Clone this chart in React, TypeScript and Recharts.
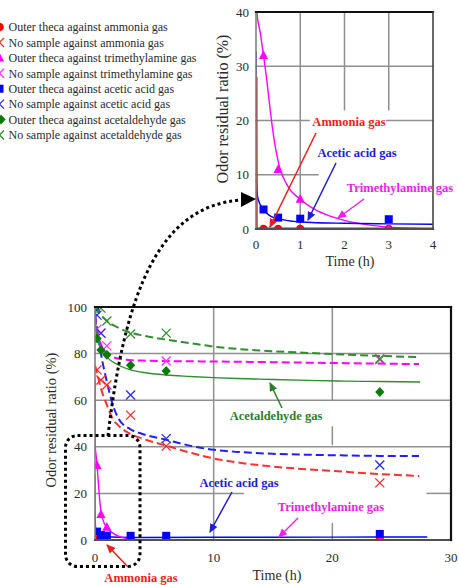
import React from "react";
import { ComposedChart, Line, Scatter, XAxis, YAxis } from "recharts";

const SERIF = '"Liberation Serif", "Times New Roman", serif';
const RED = "#ff0000";
const MAGENTA = "#ff00ff";
const BLUE = "#0000ff";
const GREEN = "#2f8f2f";
const GRID = "#909090";
const TEXT = "#2a2a2a";

// measured residual ratio (%), time in hours
const sampleTimes = [0, 0.17, 0.5, 1, 3, 6, 24];
const thecaAmmonia = [100, 0, 0, 0, 0, 0, 0];
const blankAmmonia = [100, 73, 68.7, 66.5, 53.6, 40.3, 24.5];
const thecaTMA = [100, 32, 11, 5.5, 0, 0, 0];
const blankTMA = [100, 90.5, 88.8, 83.3, null, 76.8, 77.3];
const thecaAcetic = [100, 3.6, 2.1, 1.9, 1.8, 1.8, 2.6];
const blankAcetic = [100, 96.5, 88.8, null, 62.2, 43.5, 32.2];
const thecaAcetaldehyde = [100, 86.5, 81.5, 79.5, 75, 72.5, 63.5];
const blankAcetaldehyde = [100, null, 99.5, 94, 88.4, 88.8, 77.8];

// fitted curves, no sample (dashed)
const blankFitTimes = [0, 0.25, 0.5, 1, 1.5, 2, 3, 4, 6, 8, 10, 12, 15, 18, 21, 24, 27.3];
const blankFitAmmonia = [75, 70, 65, 58, 52, 49, 45.5, 43.5, 40.5, 37.5, 35, 33.3, 31.5, 30.3, 29.3, 28.3, 27.5];
const blankFitTMA = [96, 88, 84, 80, 78.5, 77.8, 77.2, 77, 76.8, 76.7, 76.6, 76.5, 76.3, 76.1, 75.9, 75.7, 75.5];
const blankFitAcetic = [97, 88, 80, 68, 58, 52, 47.5, 45.5, 43, 40.5, 38.7, 37.8, 37, 36.6, 36.3, 36.1, 36];
const blankFitAcetaldehyde = [100, 98, 96.5, 94, 92.3, 91, 89, 87.8, 86, 84.5, 83, 82, 81, 80.3, 79.6, 79, 78.5];

// fitted curves, outer theca (solid)
const thecaFitAldTimes = [0, 0.1, 0.25, 0.5, 1, 2, 3, 4, 6, 8, 10, 12, 15, 18, 21, 24, 27.4];
const thecaFitAcetaldehyde = [100, 90, 86, 82, 78.5, 75, 73, 72, 70.8, 70.2, 69.7, 69.3, 68.9, 68.5, 68.2, 68, 67.8];
const thecaFitTMATimes = [0, 0.02, 0.1, 0.17, 0.25, 0.32, 0.4, 0.5, 0.75, 1, 1.25, 1.6, 2, 2.5, 3, 3.5, 4, 6, 27.6];
const thecaFitTMA = [69, 40, 36, 32, 27, 22, 17, 12.5, 7.5, 5.5, 4, 2.6, 1.6, 0.8, 0.35, 0.15, 0.05, 0, 0];
const thecaFitAmmoniaTimes = [0, 0.005, 27.6];
const thecaFitAmmonia = [28, 0, 0];
const thecaFitAceticTimes = [0, 0.06, 0.17, 0.5, 1, 2, 4, 10, 20, 28];
const thecaFitAcetic = [11.5, 4.5, 3.4, 1.9, 1.4, 1.15, 1.05, 1.15, 1.25, 1.3];
// same curve drawn on the 0-4 h scale
const zoomFitAceticTimes = [0, 0.01, 0.03, 0.06, 0.17, 0.3, 0.5, 0.85, 1.25, 2, 3, 4];
const zoomFitAcetic = [32.7, 10, 6.3, 5.2, 3.6, 2.5, 1.9, 1.4, 1.2, 1.05, 0.95, 0.87];

type Kind = "circle" | "cross" | "triangle" | "square" | "diamond";
type Pt = { t: number; v: number };

const toPoints = (ts: number[], vs: (number | null)[]): Pt[] =>
	ts.flatMap((t, i) => (vs[i] == null ? [] : [{ t, v: vs[i] as number }]));

const markerSeries: { name: string; values: (number | null)[]; kind: Kind; color: string }[] = [
	{ name: "Outer theca against ammonia gas", values: thecaAmmonia, kind: "circle", color: RED },
	{ name: "No sample against ammonia gas", values: blankAmmonia, kind: "cross", color: "#ff2a2a" },
	{ name: "Outer theca against trimethylamine gas", values: thecaTMA, kind: "triangle", color: MAGENTA },
	{ name: "No sample against trimethylamine gas", values: blankTMA, kind: "cross", color: "#ff33ff" },
	{ name: "Outer theca against acetic acid gas", values: thecaAcetic, kind: "square", color: BLUE },
	{ name: "No sample against acetic acid gas", values: blankAcetic, kind: "cross", color: "#2a2aff" },
	{ name: "Outer theca against acetaldehyde gas", values: thecaAcetaldehyde, kind: "diamond", color: "#0a7a0a" },
	{ name: "No sample against acetaldehyde gas", values: blankAcetaldehyde, kind: "cross", color: GREEN },
];

const mainFits = [
	{ times: blankFitTimes, values: blankFitAmmonia, color: "#ff3030", dashed: true },
	{ times: blankFitTimes, values: blankFitAcetic, color: "#2020ff", dashed: true },
	{ times: blankFitTimes, values: blankFitTMA, color: MAGENTA, dashed: true },
	{ times: blankFitTimes, values: blankFitAcetaldehyde, color: GREEN, dashed: true },
	{ times: thecaFitAldTimes, values: thecaFitAcetaldehyde, color: GREEN, dashed: false },
	{ times: thecaFitAceticTimes, values: thecaFitAcetic, color: BLUE, dashed: false },
	{ times: thecaFitAmmoniaTimes, values: thecaFitAmmonia, color: RED, dashed: false },
	{ times: thecaFitTMATimes, values: thecaFitTMA, color: MAGENTA, dashed: false },
];

const zoomFits = [
	{ times: thecaFitTMATimes, values: thecaFitTMA, color: MAGENTA, width: 1.4 },
	{ times: zoomFitAceticTimes, values: zoomFitAcetic, color: BLUE, width: 1.4 },
	{ times: thecaFitAmmoniaTimes, values: thecaFitAmmonia, color: RED, width: 3 },
];

const Mark = ({ cx, cy, kind, color }: { cx: number; cy: number; kind: Kind; color: string }) => {
	switch (kind) {
		case "circle":
			return <circle cx={cx} cy={cy} r={4.3} fill={color} />;
		case "square":
			return <rect x={cx - 4} y={cy - 4} width={8} height={8} fill={color} />;
		case "triangle":
			return <polygon points={`${cx},${cy - 5.2} ${cx + 4.6},${cy + 3.6} ${cx - 4.6},${cy + 3.6}`} fill={color} />;
		case "diamond":
			return <polygon points={`${cx},${cy - 5} ${cx + 4.6},${cy} ${cx},${cy + 5} ${cx - 4.6},${cy}`} fill={color} />;
		default:
			return (
				<path
					d={`M${cx - 4.5},${cy - 4.5}L${cx + 4.5},${cy + 4.5}M${cx + 4.5},${cy - 4.5}L${cx - 4.5},${cy + 4.5}`}
					stroke={color}
					strokeWidth={1.3}
					fill="none"
				/>
			);
	}
};

const tickStyle = { fontSize: 13, fill: TEXT, fontFamily: SERIF };

// plot rectangles on the page; chart margins are derived from them
type Plot = { left: number; top: number; right: number; bottom: number; xMax: number; yMax: number };
const MAIN_PLOT: Plot = { left: 95, top: 307, right: 451, bottom: 540, xMax: 30, yMax: 100 };
const ZOOM_PLOT: Plot = { left: 256, top: 12, right: 433, bottom: 229, xMax: 4, yMax: 40 };
const MAIN_BOX = { x: 0, y: 280, w: 459, h: 305, yAxisW: 50, xAxisH: 30 };
const ZOOM_BOX = { x: 200, y: 0, w: 250, h: 270, yAxisW: 40, xAxisH: 30 };

const marginOf = (p: Plot, b: typeof MAIN_BOX) => ({
	top: p.top - b.y,
	left: p.left - b.x - b.yAxisW,
	right: b.x + b.w - p.right,
	bottom: b.y + b.h - p.bottom - b.xAxisH,
});

const px = (p: Plot, x: number) => p.left + (x / p.xMax) * (p.right - p.left);
const py = (p: Plot, y: number) => p.bottom - (y / p.yMax) * (p.bottom - p.top);

type Rule = { x?: number; y?: number; from: number; to: number; color?: string; width?: number };

// grid pieces; gaps are left where the gas labels sit
const mainGrid: Rule[] = [
	{ x: 10, from: 0, to: 100 },
	{ x: 20, from: 0, to: 7 },
	{ x: 20, from: 41, to: 48.5 },
	{ x: 20, from: 60, to: 100 },
	{ y: 20, from: 0, to: 12.5 },
	{ y: 20, from: 28, to: 30 },
	{ y: 40, from: 0, to: 30 },
	{ y: 60, from: 0, to: 30 },
	{ y: 80, from: 0, to: 30 },
];
const mainFrame: Rule[] = [
	{ x: 0, from: 0, to: 100, color: "#808080", width: 1.6 },
	{ y: 0, from: 0, to: 30, color: "#505050", width: 2.2 },
	{ y: 100, from: 0, to: 30, color: "#111", width: 2.2 },
	{ x: 30, from: 0, to: 100, color: "#111", width: 2.2 },
];

const zoomGrid: Rule[] = [
	{ x: 1, from: 0, to: 40 },
	{ x: 2, from: 22, to: 40 },
	{ x: 3, from: 22, to: 40 },
	{ y: 10, from: 0, to: 1.4 },
	{ y: 20, from: 0, to: 1.2 },
	{ y: 20, from: 2.95, to: 4 },
	{ y: 30, from: 0, to: 4 },
];
const zoomFrame: Rule[] = [
	{ x: 0, from: 0, to: 40, color: "#808080", width: 1.6 },
	{ y: 0, from: 0, to: 4, color: "#505050", width: 2.2 },
	{ y: 40, from: 0, to: 4, color: "#111", width: 2.2 },
	{ x: 4, from: 0, to: 40, color: "#444", width: 1.6 },
];

// straight rules as paths built from the plot rectangle
const rulePaths = (p: Plot, rules: Rule[], prefix: string) =>
	rules.map((r, i) => {
		const d =
			r.x !== undefined
				? `M${px(p, r.x)},${py(p, r.from)}L${px(p, r.x)},${py(p, r.to)}`
				: `M${px(p, r.from)},${py(p, r.y as number)}L${px(p, r.to)},${py(p, r.y as number)}`;
		return (
			<path
				key={`${prefix}${i}`}
				d={d}
				fill="none"
				stroke={r.color ?? GRID}
				strokeWidth={r.width ?? 1.5}
				strokeLinecap="square"
			/>
		);
	});

const Backdrop = () => (
	<svg width={459} height={585} viewBox="0 0 459 585" style={{ position: "absolute", left: 0, top: 0, display: "block" }}>
		<g>{rulePaths(MAIN_PLOT, mainGrid, "m")}</g>
		<g>{rulePaths(ZOOM_PLOT, zoomGrid, "z")}</g>
	</svg>
);

const MainChart = () => (
	<ComposedChart width={MAIN_BOX.w} height={MAIN_BOX.h} margin={marginOf(MAIN_PLOT, MAIN_BOX)}>
		<XAxis
			type="number"
			dataKey="t"
			domain={[0, 30]}
			ticks={[0, 10, 20, 30]}
			allowDataOverflow
			height={MAIN_BOX.xAxisH}
			tickLine={false}
			tickMargin={7}
			axisLine={false}
			tick={tickStyle}
		/>
		<YAxis
			type="number"
			domain={[0, 100]}
			ticks={[0, 20, 40, 60, 80, 100]}
			allowDataOverflow
			width={MAIN_BOX.yAxisW}
			tickLine={false}
			axisLine={false}
			tick={tickStyle}
		/>
		{mainFits.map((f, i) => (
			<Line
				key={`f${i}`}
				data={toPoints(f.times, f.values)}
				dataKey="v"
				type="monotone"
				stroke={f.color}
				strokeWidth={f.dashed ? 2 : 1.4}
				strokeDasharray={f.dashed ? "8 4" : undefined}
				dot={false}
				activeDot={false}
				isAnimationActive={false}
			/>
		))}
		{markerSeries.map((s, i) => (
			<Scatter
				key={`s${i}`}
				data={toPoints(sampleTimes, s.values)}
				dataKey="v"
				isAnimationActive={false}
				shape={(p: any) => <Mark cx={p.cx} cy={p.cy} kind={s.kind} color={s.color} />}
			/>
		))}
	</ComposedChart>
);

const ZoomChart = () => (
	<ComposedChart width={ZOOM_BOX.w} height={ZOOM_BOX.h} margin={marginOf(ZOOM_PLOT, ZOOM_BOX)}>
		<XAxis
			type="number"
			dataKey="t"
			domain={[0, 4]}
			ticks={[0, 1, 2, 3, 4]}
			allowDataOverflow
			height={ZOOM_BOX.xAxisH}
			tickLine={false}
			tickMargin={5}
			axisLine={false}
			tick={tickStyle}
		/>
		<YAxis
			type="number"
			domain={[0, 40]}
			ticks={[0, 10, 20, 30, 40]}
			allowDataOverflow
			width={ZOOM_BOX.yAxisW}
			tickLine={false}
			tickMargin={1}
			axisLine={false}
			tick={tickStyle}
		/>
		{zoomFits.map((f, i) => (
			<Line
				key={`z${i}`}
				data={toPoints(f.times, f.values)}
				dataKey="v"
				type="monotone"
				stroke={f.color}
				strokeWidth={f.width}
				dot={false}
				activeDot={false}
				isAnimationActive={false}
			/>
		))}
		{markerSeries
			.filter((s) => s.kind !== "cross" && s.kind !== "diamond")
			.map((s, i) => (
				<Scatter
					key={`zs${i}`}
					data={toPoints(sampleTimes, s.values).filter((p) => p.t > 0 && p.t <= 4 && p.v <= 40)}
					dataKey="v"
					isAnimationActive={false}
					shape={(p: any) => <Mark cx={p.cx} cy={p.cy} kind={s.kind} color={s.color} />}
				/>
			))}
	</ComposedChart>
);

const arrowColors = { red: "#ee1c1c", blue: "#1c1cdd", magenta: "#f020f0", green: "#2b7f2b" };

const Annotations = () => (
	<svg
		width={459}
		height={585}
		style={{ position: "absolute", left: 0, top: 0, pointerEvents: "none", fontFamily: SERIF }}
	>
		<defs>
			{Object.entries(arrowColors).map(([k, c]) => (
				<marker
					key={k}
					id={`head-${k}`}
					markerWidth={9}
					markerHeight={8}
					refX={8}
					refY={4}
					orient="auto"
					markerUnits="userSpaceOnUse"
				>
					<path d="M0,0 L9,4 L0,8 z" fill={c} />
				</marker>
			))}
		</defs>

		{/* axes and plot frames */}
		<g>{rulePaths(MAIN_PLOT, mainFrame, "mf")}</g>
		<g>{rulePaths(ZOOM_PLOT, zoomFrame, "zf")}</g>

		{/* legend */}
		{markerSeries.map((s, i) => {
			const y = 27 + i * 15.43;
			return (
				<g key={s.name}>
					<Mark cx={s.kind === "diamond" ? 1 : -0.5} cy={y} kind={s.kind} color={s.color} />
					<text x={8.5} y={y + 4.3} fontSize={12} fill={TEXT} fontFamily={SERIF}>
						{s.name}
					</text>
				</g>
			);
		})}

		{/* axis titles */}
		<text transform="translate(56,420) rotate(-90)" textAnchor="middle" fontSize={14.5} fill={TEXT}>
			Odor residual ratio (%)
		</text>
		<text x={277} y={580} textAnchor="middle" fontSize={14} fill={TEXT}>
			Time (h)
		</text>
		<text transform="translate(228,109) rotate(-90)" textAnchor="middle" fontSize={16} fill={TEXT}>
			Odor residual ratio (%)
		</text>
		<text x={350} y={266} textAnchor="middle" fontSize={14} fill={TEXT}>
			Time (h)
		</text>

		{/* gas labels, main plot */}
		<g fontSize={12.5} fontWeight="bold">
			<text x={276} y={420} textAnchor="middle" fill={arrowColors.green}>Acetaldehyde gas</text>
			<line x1={282} y1={408} x2={270} y2={383} stroke={arrowColors.green} strokeWidth={1.5} markerEnd="url(#head-green)" />
			<text x={239} y={487} textAnchor="middle" fill={arrowColors.blue}>Acetic acid gas</text>
			<line x1={232} y1={492} x2={210} y2={532} stroke={arrowColors.blue} strokeWidth={1.5} markerEnd="url(#head-blue)" />
			<text x={331} y={511} textAnchor="middle" fill={arrowColors.magenta}>Trimethylamine gas</text>
			<line x1={298} y1={518} x2={279} y2={537} stroke={arrowColors.magenta} strokeWidth={1.5} markerEnd="url(#head-magenta)" />
			<text x={141} y={582} textAnchor="middle" fill={arrowColors.red}>Ammonia gas</text>
			<line x1={128} y1={567} x2={107} y2={545} stroke={arrowColors.red} strokeWidth={1.5} markerEnd="url(#head-red)" />
		</g>

		{/* gas labels, 0-4 h plot */}
		<g fontSize={12.5} fontWeight="bold">
			<text x={349} y={126} textAnchor="middle" fill={arrowColors.red}>Ammonia gas</text>
			<line x1={316} y1={133} x2={270} y2={227} stroke={arrowColors.red} strokeWidth={1.5} markerEnd="url(#head-red)" />
			<text x={357} y={157} textAnchor="middle" fill={arrowColors.blue}>Acetic acid gas</text>
			<line x1={336} y1={163} x2={308} y2={220} stroke={arrowColors.blue} strokeWidth={1.5} markerEnd="url(#head-blue)" />
			<text x={400} y={192} textAnchor="middle" fill={arrowColors.magenta}>Trimethylamine gas</text>
			<line x1={364} y1={199} x2={338} y2={218} stroke={arrowColors.magenta} strokeWidth={1.5} markerEnd="url(#head-magenta)" />
		</g>

		{/* dotted frame around the early hours and the pointer to the enlarged plot */}
		<rect x={65.5} y={435.5} width={74.5} height={131} rx={12} fill="none" stroke="#000" strokeWidth={3} strokeDasharray="3 3" />
		<path d="M108,436 C125,290 160,205 242,200" fill="none" stroke="#000" strokeWidth={3} strokeDasharray="3 3" />
		<polygon points="241,192 256,199 241,207" fill="#000" />
	</svg>
);

export default function App() {
	return (
		<div
			style={{
				position: "absolute",
				left: 0,
				top: 0,
				width: 459,
				height: 585,
				background: "#fff",
				overflow: "hidden",
				fontFamily: SERIF,
			}}
		>
			<Backdrop />
			<div style={{ position: "absolute", left: MAIN_BOX.x, top: MAIN_BOX.y }}>
				<MainChart />
			</div>
			<div style={{ position: "absolute", left: ZOOM_BOX.x, top: ZOOM_BOX.y }}>
				<ZoomChart />
			</div>
			<Annotations />
		</div>
	);
}
